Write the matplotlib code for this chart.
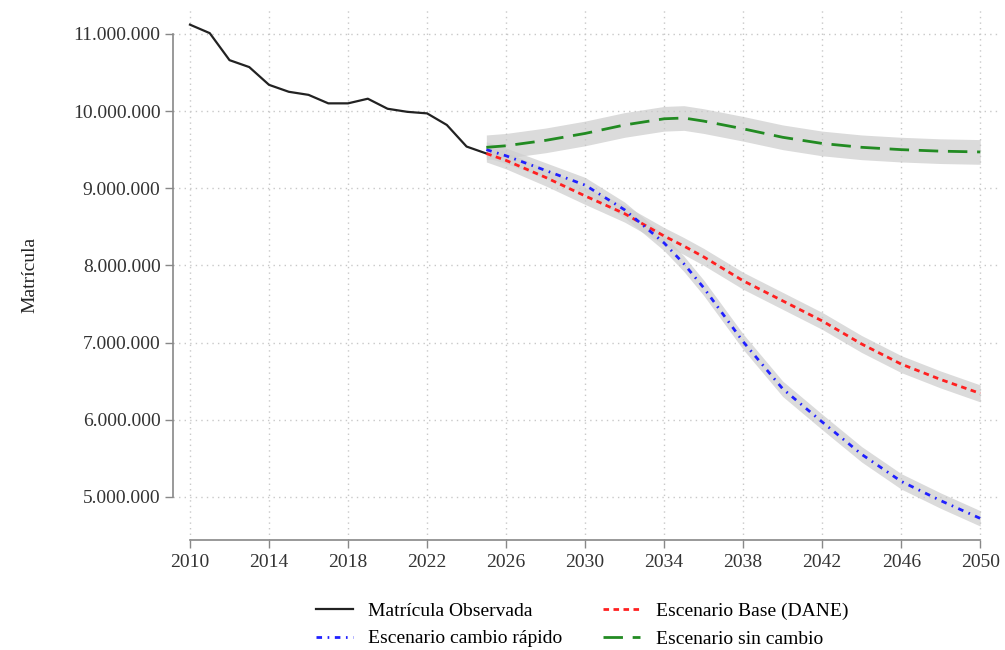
import numpy as np
import matplotlib.pyplot as plt

# Observed enrolment 2010-2025
years_obs = list(range(2010, 2026))
matricula_obs = [11.12, 11.01, 10.66, 10.57, 10.34, 10.25, 10.21, 10.10,
                 10.10, 10.16, 10.03, 9.99, 9.97, 9.82, 9.54, 9.45]

# Scenario projections 2025-2050 (every 2 years after 2026)
years_proj = [2025, 2026, 2028, 2030, 2032, 2034, 2035, 2036, 2038, 2040,
              2042, 2044, 2046, 2048, 2050]
base_dane = [9.45, 9.36, 9.14, 8.90, 8.67, 8.38, 8.25, 8.11, 7.80, 7.54,
             7.28, 6.98, 6.72, 6.52, 6.34]
cambio_rapido = [9.50, 9.42, 9.23, 9.04, 8.72, 8.29, 8.02, 7.71, 7.01, 6.40,
                 5.97, 5.55, 5.20, 4.95, 4.72]
sin_cambio = [9.53, 9.55, 9.62, 9.71, 9.82, 9.90, 9.91, 9.87, 9.77, 9.66,
              9.58, 9.53, 9.50, 9.48, 9.47]

# half-width of the uncertainty ribbons (millions)
band_base = 0.11
band_rapido = 0.10
band_sin = 0.16

plt.rcParams['font.family'] = ['Liberation Serif', 'DejaVu Serif']

fig = plt.figure(figsize=(10.05, 6.5), dpi=100)
ax = fig.add_axes([173 / 1005, 1 - 540 / 650, (1000 - 173) / 1005, (540 - 10) / 650])

yp = np.array(years_proj)
band_color = '#cfcfcf'
for vals, hw in [(sin_cambio, band_sin), (base_dane, band_base), (cambio_rapido, band_rapido)]:
    v = np.array(vals) * 1e6
    ax.fill_between(yp, v - hw * 1e6, v + hw * 1e6, color=band_color, alpha=0.75,
                    lw=0, zorder=1)

l_obs, = ax.plot(years_obs, np.array(matricula_obs) * 1e6, color='#222222', lw=1.6,
                 label='Matrícula Observada', zorder=3)
l_base, = ax.plot(yp, np.array(base_dane) * 1e6, color='#ff2020', lw=2.0, ls=(0, (2.0, 1.6)),
                  label='Escenario Base (DANE)', zorder=3)
l_rap, = ax.plot(yp, np.array(cambio_rapido) * 1e6, color='#2020ff', lw=2.0,
                 ls=(0, (2.0, 2.0, 0.6, 2.0)), label='Escenario cambio rápido', zorder=3)
l_sin, = ax.plot(yp, np.array(sin_cambio) * 1e6, color='#228b22', lw=2.0, ls=(0, (7, 3.5)),
                 label='Escenario sin cambio', zorder=3)

ax.set_xlim(2009.14, 2051.0)
ax.set_ylim(4.44e6, 11.31e6)

xt = list(range(2010, 2051, 4))
yt = [5e6, 6e6, 7e6, 8e6, 9e6, 10e6, 11e6]
ax.set_xticks(xt)
ax.set_yticks(yt)
ax.set_yticklabels([f'{int(v):,}'.replace(',', '.') for v in yt])
ax.tick_params(labelsize=14, colors='#333333', length=6, width=1, color='#888888')
ax.tick_params(axis='x', pad=4)
ax.tick_params(axis='y', pad=3)

ax.grid(True, ls=(0, (1, 3)), color='#c8c8c8', lw=1)
for s in ['top', 'right']:
    ax.spines[s].set_visible(False)
for s in ['left', 'bottom']:
    ax.spines[s].set_color('#888888')
    ax.spines[s].set_linewidth(1.2)
ax.spines['left'].set_bounds(5e6, 11e6)
ax.spines['bottom'].set_bounds(2010, 2050)

ax.set_ylabel('Matrícula', fontsize=14, labelpad=25, color='#222222')

# legend fills column-wise: col 1 = observed, rapid; col 2 = base, no change
handles = [l_obs, l_rap, l_base, l_sin]
labels = [h.get_label() for h in handles]
fig.legend(handles, labels, ncol=2, loc='center', frameon=False, fontsize=14,
           bbox_to_anchor=(582 / 1005, 1 - 625 / 650), handlelength=1.9,
           handletextpad=0.8, columnspacing=2.1, labelspacing=0.5)

fig.savefig('out.png', dpi=100)
